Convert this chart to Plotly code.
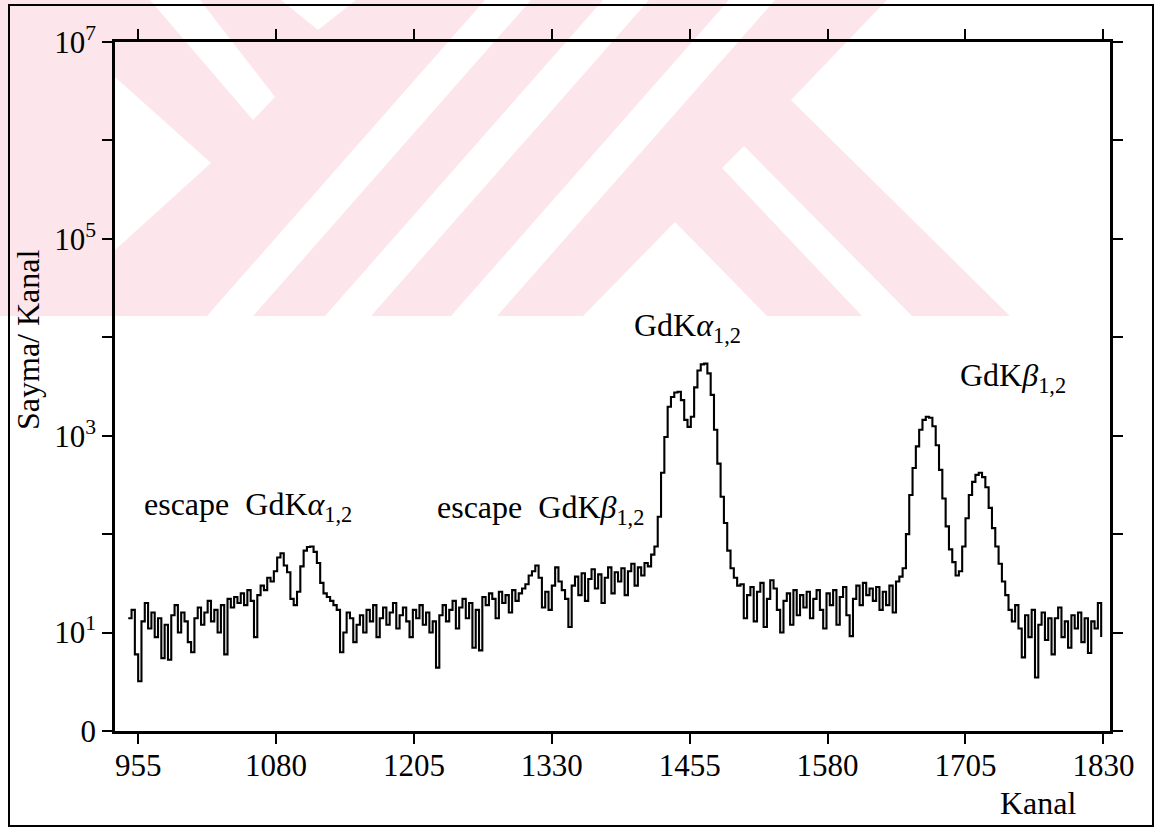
import math
import plotly.graph_objects as go

# Gd K x-ray spectrum, counts per channel (every third channel)
channel_start = 946
channel_step = 3
counts = [
    14, 17, 6, 3.2, 13, 20, 11, 16, 9, 14,            # 946-973
    5.5, 12, 5.3, 15, 19, 10, 16, 13, 8, 6.3,         # 976-1003
    14, 18, 12, 16, 21, 13, 17, 10, 19, 6,            # 1006-1033
    22, 18, 23, 20, 25, 19, 27, 21, 9, 24,            # 1036-1063
    30, 27, 36, 33, 42, 58, 64, 48, 41, 22,           # 1066-1093
    19, 26, 47, 68, 74, 75, 66, 51, 32, 25,           # 1096-1123
    23, 21, 19, 17, 6.3, 10, 16, 14, 8, 12,           # 1126-1153
    15, 10, 17, 13, 19, 9, 14, 18, 12, 16,            # 1156-1183
    20, 11, 15, 18, 13, 9, 17, 14, 19, 12,            # 1186-1213
    16, 10, 13, 4.4, 15, 19, 13, 17, 21, 11,          # 1216-1243
    18, 22, 14, 20, 7, 17, 6.6, 23, 19, 25,           # 1246-1273
    22, 14, 26, 20, 24, 16, 27, 21, 25, 28,           # 1276-1303
    31, 38, 42, 48, 36, 18, 26, 17, 30, 46,           # 1306-1333
    33, 27, 22, 11.4, 30, 37, 24, 40, 21, 35,         # 1336-1363
    44, 28, 39, 20, 36, 46, 25, 41, 33, 45,           # 1366-1393
    24, 42, 50, 30, 46, 38, 51, 47, 62, 75,           # 1396-1423
    150, 420, 970, 1970, 2470, 2750, 2800, 2300, 1450, 1230,   # 1426-1453
    1560, 3100, 4600, 5300, 5400, 4300, 2600, 1150, 520, 240,  # 1456-1483
    130, 68, 45, 36, 30, 31, 14, 24, 29, 13,          # 1486-1513
    26, 32, 11.4, 22, 34, 28, 17, 10, 21, 25,         # 1516-1543
    12, 27, 15, 24, 18, 26, 14, 22, 27, 17,           # 1546-1573
    11, 25, 19, 27, 12, 23, 29, 15, 9.2, 22,          # 1576-1603
    30, 19, 32, 24, 28, 21, 29, 17, 26, 19,           # 1606-1633
    30, 16, 33, 37, 45, 100, 250, 470, 780, 1150,     # 1636-1663
    1450, 1560, 1520, 1250, 800, 450, 230, 120, 70, 52,   # 1666-1693
    38, 42, 75, 145, 250, 340, 400, 420, 380, 300,    # 1696-1723
    185, 115, 75, 50, 33, 24, 17, 13, 19, 11,         # 1726-1753
    5.6, 15, 9, 17, 3.5, 12, 16, 8.4, 14, 6,          # 1756-1783
    14, 18, 9, 13, 7, 15, 11, 16, 8, 14,              # 1786-1813
    6.2, 13, 11, 20, 9,                               # 1816-1828
]
channels = [channel_start + channel_step * i for i in range(len(counts))]

x_tickvals = [955, 1080, 1205, 1330, 1455, 1580, 1705, 1830]
y_tickvals = [1, 10, 100, 1e3, 1e4, 1e5, 1e6, 1e7]
y_ticktext = ["0", "10<sup>1</sup>", "", "10<sup>3</sup>", "",
              "10<sup>5</sup>", "", "10<sup>7</sup>"]

peak_labels = ["escape\u00a0\u00a0GdK<i>α</i><sub>1,2</sub>",
               "escape\u00a0\u00a0GdK<i>β</i><sub>1,2</sub>",
               "GdK<i>α</i><sub>1,2</sub>",
               "GdK<i>β</i><sub>1,2</sub>"]
peak_label_x = [1055, 1320, 1453, 1748]
peak_label_y = [190, 180, 12500, 3900]

W, H = 1166, 829
L, R, T, B = 115, 1110, 42, 731
FONT = "Liberation Serif, Times New Roman, serif"


def px(x):
    return (x - L) / (R - L)


def py(y):
    return (B - y) / (B - T)


def poly(points):
    return "M " + " L ".join(f"{px(a):.4f},{py(b):.4f}" for a, b in points) + " Z"


fig = go.Figure(go.Scatter(
    x=channels, y=counts, mode="lines", line_shape="hv",
    line=dict(color="black", width=2.1), showlegend=False,
))

# faint thesis-centre watermark behind the plot
pink = "#fce6eb"
shapes = [dict(type="path", path=poly([(0, 0), (887, 0), (791, 100), (1010, 316), (0, 316)]),
               fillcolor=pink, line=dict(width=0), xref="paper", yref="paper", layer="below")]
white_cuts = [
    [(115, 77), (211, 163), (115, 250)],
    [(150, 0), (200, 0), (275, 97), (253, 120)],
    [(281, 0), (356, 0), (318, 30)],
    [(207, 316), (253, 316), (531, 0), (485, 0)],
    [(325, 316), (371, 316), (649, 0), (603, 0)],
    [(451, 316), (497, 316), (775, 0), (729, 0)],
    [(722, 168), (744, 146), (912, 316), (862, 316)],
    [(583, 316), (675, 222), (767, 316)],
]
for pts in white_cuts:
    shapes.append(dict(type="path", path=poly(pts), fillcolor="white",
                       line=dict(width=0), xref="paper", yref="paper", layer="below"))

# outer frame around the figure
shapes.append(dict(type="rect", x0=px(9), x1=px(1153), y0=py(5), y1=py(826),
                   xref="paper", yref="paper", line=dict(color="black", width=2),
                   fillcolor="rgba(0,0,0,0)", layer="above"))

annotations = []
for text, xv, yv in zip(peak_labels, peak_label_x, peak_label_y):
    annotations.append(dict(x=xv, y=math.log10(yv), xref="x", yref="y",
                            text=text, showarrow=False, xanchor="center", yanchor="middle",
                            font=dict(family=FONT, size=32, color="black")))
annotations.append(dict(x=px(28), y=py(340), xref="paper", yref="paper",
                        text="Sayma/ Kanal", textangle=-90, showarrow=False,
                        xanchor="center", yanchor="middle",
                        font=dict(family=FONT, size=32, color="black")))
annotations.append(dict(x=px(1038), y=py(803), xref="paper", yref="paper",
                        text="Kanal", showarrow=False, xanchor="center", yanchor="middle",
                        font=dict(family=FONT, size=32, color="black")))

axis_common = dict(showline=True, linecolor="black", linewidth=2.5, mirror="ticks",
                   ticks="outside", ticklen=10, tickwidth=2, tickcolor="black",
                   showgrid=False, zeroline=False,
                   tickfont=dict(family=FONT, size=31, color="black"))

fig.update_layout(
    width=W, height=H, autosize=False,
    margin=dict(l=L, r=W - R, t=T, b=H - B, pad=0),
    paper_bgcolor="white", plot_bgcolor="rgba(0,0,0,0)",
    xaxis=dict(range=[934, 1836], tickvals=x_tickvals, ticklabelstandoff=-5, **axis_common),
    yaxis=dict(type="log", range=[0, 7], tickvals=y_tickvals, ticktext=y_ticktext,
               **axis_common),
    shapes=shapes, annotations=annotations,
)

fig.write_html("out.html")
